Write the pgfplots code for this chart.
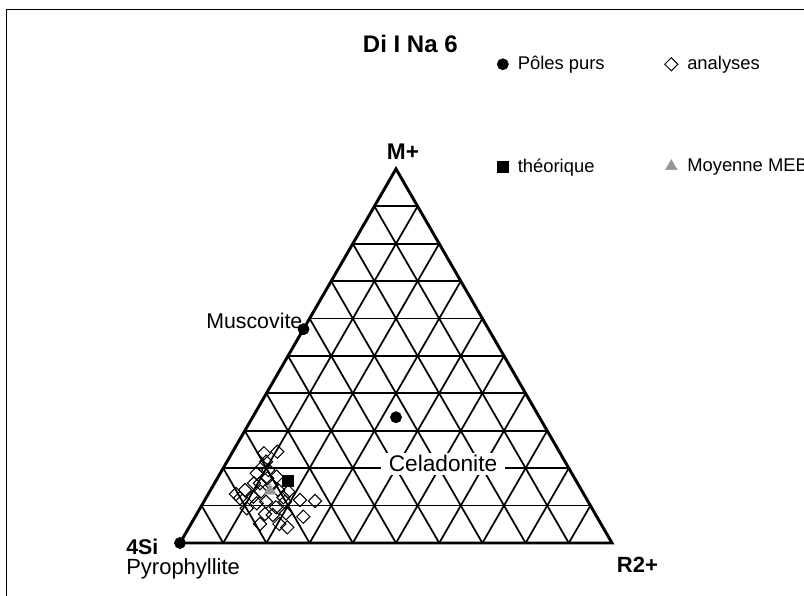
\documentclass[border=0pt]{standalone}
\usepackage{pgfplots}
\pgfplotsset{compat=1.18}
\usepackage{fontspec}
\setmainfont{Liberation Sans}

\definecolor{meb}{RGB}{150,150,150}

\begin{document}
\begin{tikzpicture}
\begin{axis}[
  scale only axis,
  width=603pt, height=447pt,
  xmin=-4.1667, xmax=14.4444,
  ymin=-1.2269, ymax=12.5694,
  hide axis,
  clip=false,
  unbounded coords=jump,
  only mark legend/.style={legend image code/.code={\draw[mark repeat=2,mark phase=2,##1] plot coordinates {(0cm,0cm) (0.15cm,0cm) (0.3cm,0cm)};}},
  legend style={draw=none, fill=none, font=\fontsize{13.8}{16}\selectfont,
    at={(axis cs:7.245,11.39)}, anchor=north west,
    row sep=61pt,
    /tikz/every odd column/.append style={column sep=5pt},
    /tikz/every even column/.append style={column sep=43pt}},
  legend columns=2,
  legend cell align=left,
]
% frame
\draw[line width=0.75pt] (axis cs:-4.011,-1.2269) -- (axis cs:-4.011,12.354) -- (axis cs:14.444,12.354);
% triangle grid
\addplot[forget plot, black, line width=1.3pt] coordinates {
  (0.5,0.866) (9.5,0.866) (nan,nan)
  (1,1.732) (9,1.732) (nan,nan)
  (1.5,2.598) (8.5,2.598) (nan,nan)
  (2,3.464) (8,3.464) (nan,nan)
  (2.5,4.330) (7.5,4.330) (nan,nan)
  (3,5.196) (7,5.196) (nan,nan)
  (3.5,6.062) (6.5,6.062) (nan,nan)
  (4,6.928) (6,6.928) (nan,nan)
  (4.5,7.794) (5.5,7.794)
};
\addplot[forget plot, black, line width=1.3pt] coordinates {
  (1,0) (5.5,7.794) (nan,nan)
  (2,0) (6,6.928) (nan,nan)
  (3,0) (6.5,6.062) (nan,nan)
  (4,0) (7,5.196) (nan,nan)
  (5,0) (7.5,4.330) (nan,nan)
  (6,0) (8,3.464) (nan,nan)
  (7,0) (8.5,2.598) (nan,nan)
  (8,0) (9,1.732) (nan,nan)
  (9,0) (9.5,0.866)
};
\addplot[forget plot, black, line width=1.3pt] coordinates {
  (1,0) (0.5,0.866) (nan,nan)
  (2,0) (1,1.732) (nan,nan)
  (3,0) (1.5,2.598) (nan,nan)
  (4,0) (2,3.464) (nan,nan)
  (5,0) (2.5,4.330) (nan,nan)
  (6,0) (3,5.196) (nan,nan)
  (7,0) (3.5,6.062) (nan,nan)
  (8,0) (4,6.928) (nan,nan)
  (9,0) (4.5,7.794)
};
\addplot[forget plot, black, line width=2.2pt, line join=miter] coordinates {(0,0) (10,0) (5,8.660) (0,0)};

% labels
\node[anchor=base west, inner sep=0, font=\bfseries\fontsize{18}{20}\selectfont] at (axis cs:4.229,11.343) {Di I Na 6};
\node[anchor=base west, inner sep=0, font=\bfseries\fontsize{17}{19}\selectfont] at (axis cs:4.785,8.866) {M+};
\node[anchor=base west, inner sep=0, font=\bfseries\fontsize{16}{18}\selectfont] at (axis cs:-1.25,-0.255) {4Si};
\node[anchor=base west, inner sep=0, font=\fontsize{16.5}{18}\selectfont] at (axis cs:-1.25,-0.718) {Pyrophyllite};
\node[anchor=base west, inner sep=0, font=\bfseries\fontsize{16.5}{18}\selectfont] at (axis cs:10.109,-0.6875) {R2+};
\node[anchor=base west, inner sep=0, font=\fontsize{16}{18}\selectfont] at (axis cs:0.602,4.970) {Muscovite};
\node[anchor=base, fill=white, inner xsep=6pt, inner ysep=2pt, font=\fontsize{17}{19}\selectfont] at (axis cs:6.088,1.650) {Celadonite};

% data
\addplot[only marks, mark=*, mark size=4.2pt, black] coordinates {
  (0,0) (2.86,4.95) (5.0,2.91)
};
\addlegendentry{Pôles purs}
\addplot[only marks, mark=square, mark size=3.5pt, mark options={rotate=45, fill=white, line width=0.75pt}, black] coordinates {
  (1.944,2.076) (2.252,2.113) (1.991,1.882) (1.775,1.613) (2.044,1.690)
  (2.238,1.535) (1.852,1.382) (2.021,1.498) (1.296,1.134) (1.505,1.227)
  (1.697,1.072) (1.868,1.188) (2.275,1.227) (2.507,1.188) (1.544,0.803)
  (1.775,0.919) (1.991,0.956) (2.222,0.826) (2.431,0.956) (2.778,0.995)
  (3.125,0.972) (1.968,0.671) (2.454,0.688) (2.854,0.609) (1.852,0.440)
  (2.299,0.440) (2.484,0.363) (1.389,1.035) (2.123,1.343) (2.391,1.058)
  (2.146,0.648) (1.713,1.382) (1.914,1.766)
};
\addlegendentry{analyses}
\addplot[only marks, mark=square*, mark size=4.1pt, black] coordinates {(2.493,1.451)};
\addlegendentry{théorique}
\addplot[only marks, mark=triangle*, mark size=5pt, color=meb] coordinates {(2.083,1.211)};
\addlegendentry{Moyenne MEB}
\end{axis}
\pgfresetboundingbox
\path[use as bounding box] (current axis.south west) rectangle (current axis.north east);
\end{tikzpicture}
\end{document}
